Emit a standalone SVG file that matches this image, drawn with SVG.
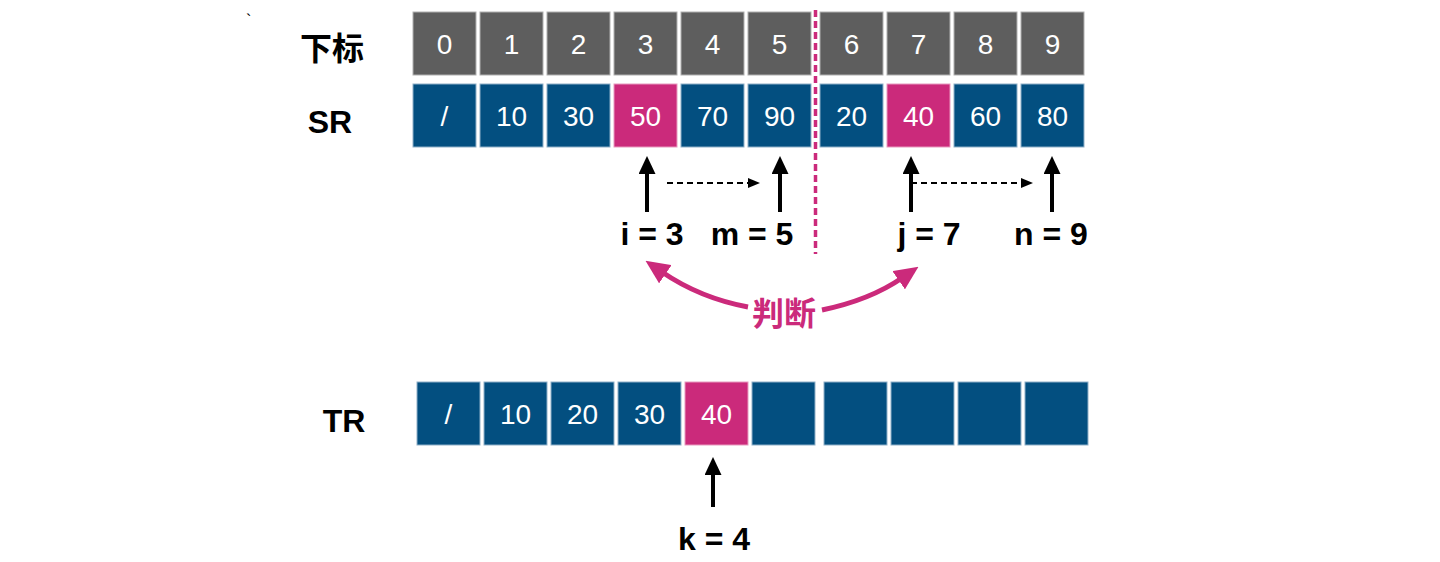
<svg xmlns="http://www.w3.org/2000/svg" width="1440" height="562" viewBox="0 0 1440 562">
<defs>
<style>
.g{fill:#5e5e5e;stroke:#b0b0b0;stroke-width:1}
.b{fill:#034f80;stroke:#8fb0c8;stroke-width:1}
.p{fill:#cb2a7b;stroke:#e89abf;stroke-width:1}
.ct{font-family:"Liberation Sans",Arial,sans-serif;font-size:28px;fill:#fff;text-anchor:middle}
.lb{font-family:"Liberation Sans",Arial,sans-serif;font-size:32px;font-weight:bold;fill:#000;text-anchor:middle}
.cjk{font-family:"Liberation Sans","Noto Sans CJK SC",sans-serif;font-size:32px;font-weight:bold;text-anchor:middle}
.ar{stroke:#000;stroke-width:4;fill:none}
.da{stroke:#000;stroke-width:2;stroke-dasharray:6 4;fill:none}
.pc{stroke:#cb2a7b;stroke-width:5;fill:none}
</style>
<marker id="ah" markerUnits="userSpaceOnUse" markerWidth="18" markerHeight="17" refX="4" refY="8.5" orient="auto"><path d="M0,0 L18,8.5 L0,17 z" fill="#000"/></marker>
<marker id="ahs" markerUnits="userSpaceOnUse" markerWidth="12" markerHeight="10" refX="2" refY="5" orient="auto"><path d="M0,0 L12,5 L0,10 z" fill="#000"/></marker>
<marker id="ahp" markerUnits="userSpaceOnUse" markerWidth="24" markerHeight="22" refX="4" refY="11" orient="auto"><path d="M0,0 L24,11 L0,22 z" fill="#cb2a7b"/></marker>
</defs>
<rect width="1440" height="562" fill="#fff"/>
<text x="246" y="26" font-family="Liberation Sans,sans-serif" font-size="16" fill="#000">`</text>

<g id="labels">
<text class="cjk" x="332" y="60" fill="#000">下标</text>
<text class="lb" x="330" y="133" font-size="31">SR</text>
<text class="lb" x="344" y="432" font-size="31">TR</text>
</g>

<g id="index-row">
<rect class="g" x="413" y="12" width="63" height="63"/><text class="ct" x="444.5" y="53.5">0</text>
<rect class="g" x="480" y="12" width="63" height="63"/><text class="ct" x="511.5" y="53.5">1</text>
<rect class="g" x="547" y="12" width="63" height="63"/><text class="ct" x="578.5" y="53.5">2</text>
<rect class="g" x="614" y="12" width="63" height="63"/><text class="ct" x="645.5" y="53.5">3</text>
<rect class="g" x="681" y="12" width="63" height="63"/><text class="ct" x="712.5" y="53.5">4</text>
<rect class="g" x="748" y="12" width="63" height="63"/><text class="ct" x="779.5" y="53.5">5</text>
<rect class="g" x="820" y="12" width="63" height="63"/><text class="ct" x="851.5" y="53.5">6</text>
<rect class="g" x="887" y="12" width="63" height="63"/><text class="ct" x="918.5" y="53.5">7</text>
<rect class="g" x="954" y="12" width="63" height="63"/><text class="ct" x="985.5" y="53.5">8</text>
<rect class="g" x="1021" y="12" width="63" height="63"/><text class="ct" x="1052.5" y="53.5">9</text>
</g>

<g id="sr-row">
<rect class="b" x="413" y="84" width="63" height="63"/><text class="ct" x="444.5" y="125.5">/</text>
<rect class="b" x="480" y="84" width="63" height="63"/><text class="ct" x="511.5" y="125.5">10</text>
<rect class="b" x="547" y="84" width="63" height="63"/><text class="ct" x="578.5" y="125.5">30</text>
<rect class="p" x="614" y="84" width="63" height="63"/><text class="ct" x="645.5" y="125.5">50</text>
<rect class="b" x="681" y="84" width="63" height="63"/><text class="ct" x="712.5" y="125.5">70</text>
<rect class="b" x="748" y="84" width="63" height="63"/><text class="ct" x="779.5" y="125.5">90</text>
<rect class="b" x="820" y="84" width="63" height="63"/><text class="ct" x="851.5" y="125.5">20</text>
<rect class="p" x="887" y="84" width="63" height="63"/><text class="ct" x="918.5" y="125.5">40</text>
<rect class="b" x="954" y="84" width="63" height="63"/><text class="ct" x="985.5" y="125.5">60</text>
<rect class="b" x="1021" y="84" width="63" height="63"/><text class="ct" x="1052.5" y="125.5">80</text>
</g>

<g id="tr-row">
<rect class="b" x="417" y="382" width="63" height="63"/><text class="ct" x="448.5" y="424">/</text>
<rect class="b" x="484" y="382" width="63" height="63"/><text class="ct" x="515.5" y="424">10</text>
<rect class="b" x="551" y="382" width="63" height="63"/><text class="ct" x="582.5" y="424">20</text>
<rect class="b" x="618" y="382" width="63" height="63"/><text class="ct" x="649.5" y="424">30</text>
<rect class="p" x="685" y="382" width="63" height="63"/><text class="ct" x="716.5" y="424">40</text>
<rect class="b" x="752" y="382" width="63" height="63"/>
<rect class="b" x="824" y="382" width="63" height="63"/>
<rect class="b" x="891" y="382" width="63" height="63"/>
<rect class="b" x="958" y="382" width="63" height="63"/>
<rect class="b" x="1025" y="382" width="63" height="63"/>
</g>

<g id="divider">
<line x1="815.5" y1="10" x2="815.5" y2="254" stroke="#cb2a7b" stroke-width="3.5" stroke-dasharray="7 4"/>
</g>

<g id="connectors">
<line class="ar" x1="647" y1="212" x2="647" y2="170" marker-end="url(#ah)"/>
<line class="ar" x1="780" y1="212" x2="780" y2="170" marker-end="url(#ah)"/>
<line class="ar" x1="911" y1="212" x2="911" y2="170" marker-end="url(#ah)"/>
<line class="ar" x1="1052" y1="212" x2="1052" y2="170" marker-end="url(#ah)"/>
<line class="ar" x1="713" y1="507" x2="713" y2="471" marker-end="url(#ah)"/>
<line class="da" x1="667" y1="183" x2="750" y2="183" marker-end="url(#ahs)"/>
<line class="da" x1="911" y1="183" x2="1023" y2="183" marker-end="url(#ahs)"/>
<path class="pc" d="M748,307 Q700,298 662,272" marker-end="url(#ahp)"/>
<path class="pc" d="M822,310 Q870,300 902,278" marker-end="url(#ahp)"/>
</g>

<g id="pointer-labels">
<text class="lb" x="652" y="245">i = 3</text>
<text class="lb" x="752" y="245">m = 5</text>
<text class="lb" x="929" y="245">j = 7</text>
<text class="lb" x="1051" y="245">n = 9</text>
<text class="lb" x="714" y="550">k = 4</text>
<text class="cjk" x="784" y="325" fill="#cb2a7b" font-size="30">判断</text>
</g>
</svg>
